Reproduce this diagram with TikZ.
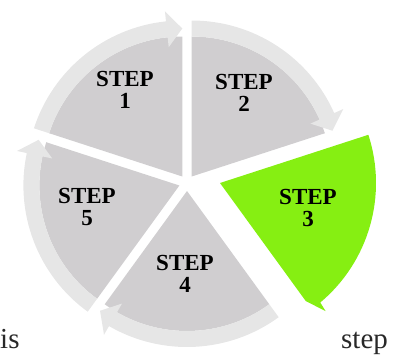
\documentclass[tikz,border=0pt]{standalone}
\usepackage{fontspec}
\setmainfont{Liberation Serif}
\usepackage{tikz}
\usetikzlibrary{positioning}
\definecolor{wedgegray}{RGB}{208,206,208}
\definecolor{bandgray}{RGB}{230,230,230}
\definecolor{activegreen}{RGB}{134,239,18}
\definecolor{bodyink}{RGB}{40,40,40}
\tikzset{
    wedge/.style={fill=wedgegray},
    band/.style={fill=bandgray},
    activewedge/.style={fill=activegreen},
    steplabel/.style={
        font=\fontsize{23}{21.5}\selectfont\bfseries,
        text=black,
        align=center,
        inner sep=0pt
    },
    bodytext/.style={
        font=\fontsize{29}{29}\selectfont,
        text=bodyink,
        inner sep=0pt
    }
}

\begin{document}
\begin{tikzpicture}[x=1pt, y=1pt]
\useasboundingbox (0,-356) rectangle (399,0);

% Apex of every segment
\coordinate (apex1) at (182.3,-176.5);
\coordinate (apex2) at (191.7,-176.5);
\coordinate (apex3) at (220,-183);
\coordinate (apex4) at (187,-191);
\coordinate (apex5) at (179.4,-185.5);

% Step 1
\begin{scope}[shift={(apex1)}]
\fill[wedge] (0,0) -- (162:140) arc[start angle=162, end angle=90, radius=140] -- cycle;
\fill[band] (162:140) arc[start angle=162, end angle=96, radius=140] -- (96:130) -- (90:148)
    -- (96:166) -- (96:156) arc[start angle=96, end angle=162, radius=156] -- cycle;
\end{scope}

% Step 2
\begin{scope}[shift={(apex2)}]
\fill[wedge] (0,0) -- (90:140) arc[start angle=90, end angle=18, radius=140] -- cycle;
\fill[band] (90:140) arc[start angle=90, end angle=24, radius=140] -- (24:130) -- (18:148)
    -- (24:166) -- (24:156) arc[start angle=24, end angle=90, radius=156] -- cycle;
\end{scope}

% Step 3 (active, wedge and band in one piece)
\begin{scope}[shift={(apex3)}]
\fill[activewedge] (0,0) -- (18:156) arc[start angle=18, end angle=-50, radius=156]
    -- (-50.5:166) -- (-54:146) -- cycle;
\end{scope}

% Step 4
\begin{scope}[shift={(apex4)}]
\fill[wedge] (0,0) -- (-54:140) arc[start angle=-54, end angle=-126, radius=140] -- cycle;
\fill[band] (-54:140) arc[start angle=-54, end angle=-120, radius=140] -- (-120:130) -- (-126:148)
    -- (-120:166) -- (-120:156) arc[start angle=-120, end angle=-54, radius=156] -- cycle;
\end{scope}

% Step 5
\begin{scope}[shift={(apex5)}]
\fill[wedge] (0,0) -- (234:140) arc[start angle=234, end angle=162, radius=140] -- cycle;
\fill[band] (234:140) arc[start angle=234, end angle=168, radius=140] -- (168:130) -- (162:148)
    -- (168:166) -- (168:156) arc[start angle=168, end angle=234, radius=156] -- cycle;
\end{scope}

% Labels
\node[steplabel] (step1) at (125,-90) {STEP\\1};
\node[steplabel] (step2) at (244,-93) {STEP\\2};
\node[steplabel] (step3) at (308,-208) {STEP\\3};
\node[steplabel] (step4) at (185,-274) {STEP\\4};
\node[steplabel] (step5) at (87,-207) {STEP\\5};

% Surrounding text
\node[bodytext, anchor=base west] (wordis) at (0,-348) {is};
\node[bodytext, anchor=base west] (wordstep) at (341,-348) {step};

\end{tikzpicture}
\end{document}
